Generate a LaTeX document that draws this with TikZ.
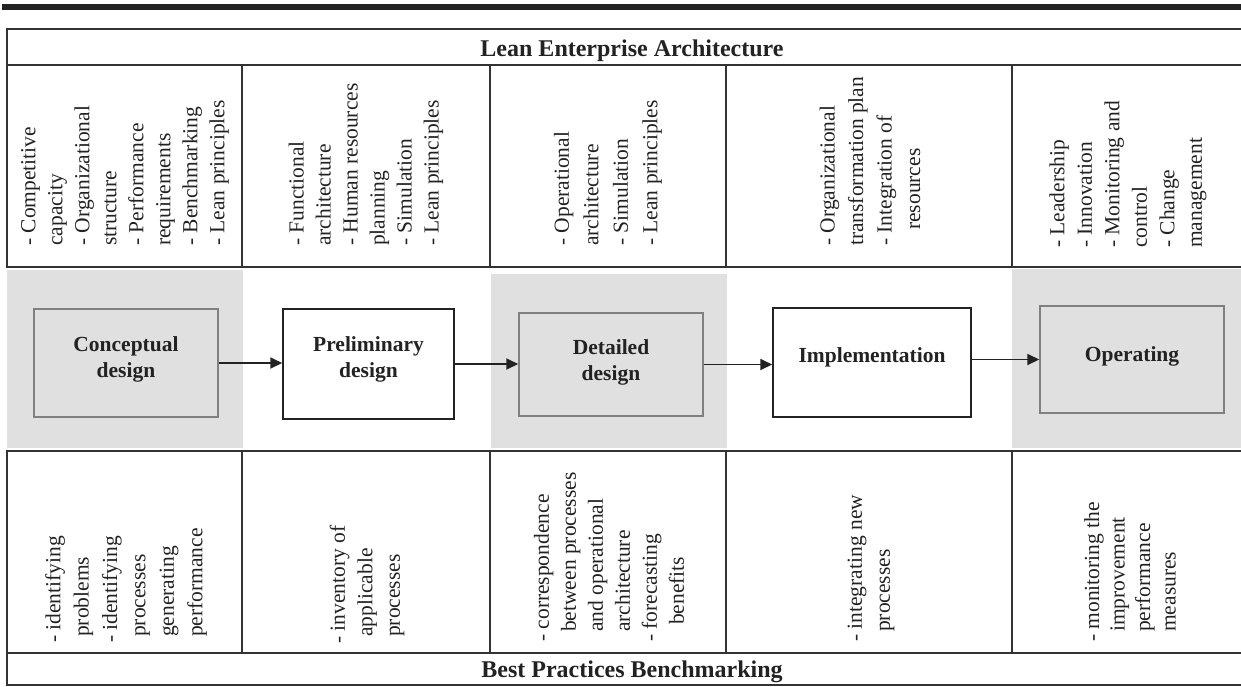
\documentclass[tikz,border=0pt]{standalone}
\usepackage{fontspec}
\setmainfont{Liberation Serif}
\usetikzlibrary{arrows.meta}
\definecolor{bandgray}{RGB}{224,224,224}
\definecolor{rulegray}{RGB}{51,51,51}
\definecolor{framegray}{RGB}{128,128,128}
\definecolor{inkblack}{RGB}{34,34,34}

\begin{document}
\begin{tikzpicture}[x=1pt,y=-1pt,
  rule/.style={draw=rulegray, line width=2pt},
  band/.style={fill=bandgray},
  stagebox/.style={line width=1.5pt, inner sep=0pt},
  shaded/.style={stagebox, draw=framegray, fill=bandgray},
  plain/.style={stagebox, draw=inkblack, fill=white},
  stagelabel/.style={align=center, inner sep=0pt, text=inkblack,
    font=\fontsize{21.5}{26}\selectfont\bfseries},
  flow/.style={draw=inkblack, line width=1.8pt, -{Triangle[length=12pt,width=11pt]}},
  vtext/.style={rotate=90, anchor=west, align=left, inner sep=0pt, text=inkblack,
    font=\fontsize{21.5}{#1}\selectfont},
  vtext/.default=27,
  header/.style={inner sep=0pt, text=inkblack, font=\fontsize{24}{28}\selectfont\bfseries}
]
\useasboundingbox (0,0) rectangle (1241,686);
\clip (0,0) rectangle (1241,686);

% heavy rule above the figure
\fill[inkblack] (2,4) rectangle (1250,10);

% shaded bands behind the first, third and fifth stage
\fill[band] (7,270) rectangle (243,448);
\fill[band] (491,274) rectangle (727,448);
\fill[band] (1012,269) rectangle (1250,448);

% upper table: title row and five cells
\draw[rule] (1250,29) -- (7,29) -- (7,267) -- (1250,267);
\draw[rule] (7,65) -- (1250,65);
\foreach \x in {242,490,726,1012} \draw[rule] (\x,65) -- (\x,267);

% lower table: five cells and title row
\draw[rule] (1250,451) -- (7,451) -- (7,685) -- (1250,685);
\draw[rule] (7,653) -- (1250,653);
\foreach \x in {242,490,726,1012} \draw[rule] (\x,451) -- (\x,653);

% titles
\node[header] (lea) at (632,50.5) {Lean Enterprise Architecture};
\node[header] (bpb) at (632,671.5) {Best Practices Benchmarking};

% upper cells
\node[vtext] (u1) at (125,246) {- Competitive\\capacity\\- Organizational\\structure\\- Performance\\requirements\\- Benchmarking\\- Lean principles};
\node[vtext] (u2) at (366,246) {- Functional\\architecture\\- Human resources\\planning\\- Simulation\\- Lean principles};
\node[vtext=29.5] (u3) at (608,246) {- Operational\\architecture\\- Simulation\\- Lean principles};
\node[vtext=28.5] (u4) at (870,246) {- Organizational\\transformation plan\\- Integration of\\\hspace*{16pt}resources};
\node[vtext=27.5] (u5) at (1128,248) {- Leadership\\- Innovation\\- Monitoring and\\control\\- Change\\management};

% stages
\node[shaded, minimum width=184pt, minimum height=108pt] (c) at (126,363) {};
\node[plain,  minimum width=171pt, minimum height=110pt] (p) at (368.5,364) {};
\node[shaded, minimum width=184pt, minimum height=103pt] (d) at (611,364.5) {};
\node[plain,  minimum width=198pt, minimum height=109pt] (i) at (872,362.5) {};
\node[shaded, minimum width=184pt, minimum height=107pt] (o) at (1132,359.5) {};

\node[stagelabel] (cl) at ([yshift=3.5pt]c.center) {Conceptual\\design};
\node[stagelabel] (pl) at ([yshift=4.5pt]p.center) {Preliminary\\design};
\node[stagelabel] (dl) at ([yshift=2.5pt]d.center) {Detailed\\design};
\node[stagelabel] (il) at ([yshift=5pt]i.center) {Implementation};
\node[stagelabel] (ol) at ([yshift=3pt]o.center) {Operating};

\draw[flow] (c.east) -- (c.east -| p.west);
\draw[flow] (p.east) -- (p.east -| d.west);
\draw[flow] (d.east) -- (d.east -| i.west);
\draw[flow] (o.west -| i.east) -- (o.west);

% lower cells
\node[vtext=28.4] (b1) at (126,643) {- identifying\\\hspace*{6pt}problems\\- identifying\\\hspace*{6pt}processes\\\hspace*{6pt}generating\\\hspace*{6pt}performance};
\node[vtext=27.5] (b2) at (367,644) {- inventory of\\\hspace*{7pt}applicable\\\hspace*{7pt}processes};
\node[vtext=27] (b3) at (609,642) {- correspondence\\\hspace*{10pt}between processes\\\hspace*{10pt}and operational\\\hspace*{10pt}architecture\\- forecasting\\\hspace*{17pt}benefits};
\node[vtext=28] (b4) at (871,642) {- integrating new\\\hspace*{10pt}processes};
\node[vtext=25.5] (b5) at (1130,642) {- monitoring the\\\hspace*{10pt}improvement\\\hspace*{10pt}performance\\\hspace*{10pt}measures};
\end{tikzpicture}
\end{document}
